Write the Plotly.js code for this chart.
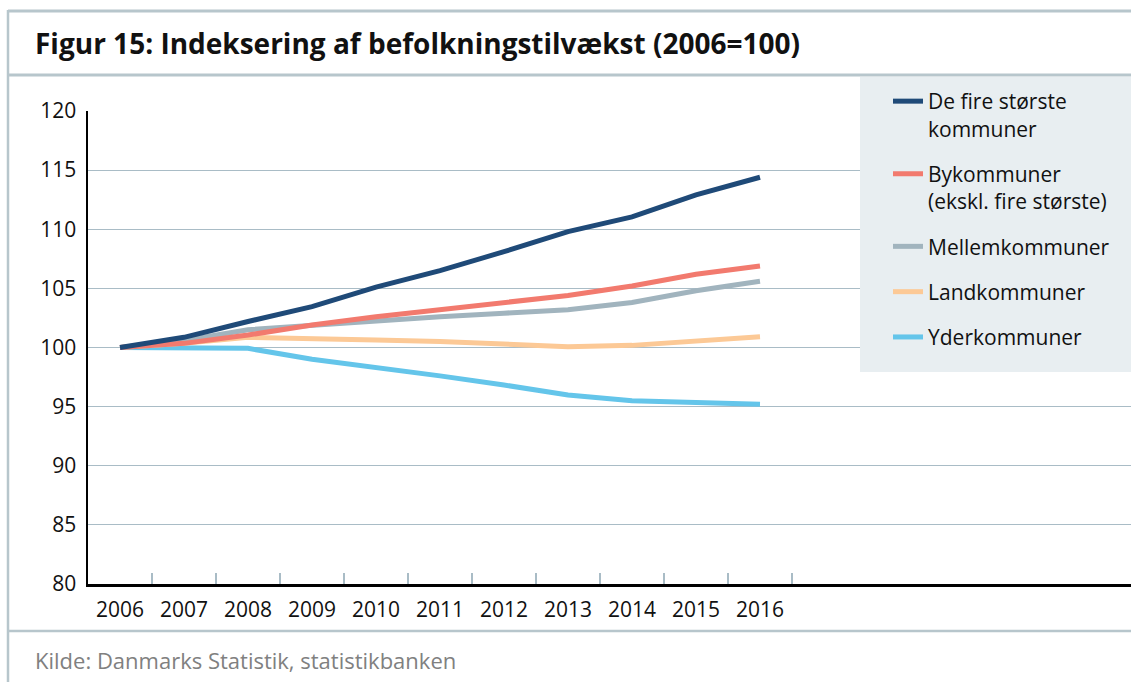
<!DOCTYPE html>
<html>
<head>
<meta charset="utf-8">
<script src="https://cdn.plot.ly/plotly-3.0.1.min.js"></script>
<style>html,body{margin:0;padding:0;background:#fff;}#chart{width:1131px;height:682px;}</style>
</head>
<body>
<div id="chart"></div>
<script>
// ---- Data ----
const years = ['2006','2007','2008','2009','2010','2011','2012','2013','2014','2015','2016'];
const deFireStoerste = [100, 100.86, 102.2, 103.45, 105.1, 106.5, 108.1, 109.8, 111.05, 112.9, 114.4];
const bykommuner     = [100, 100.35, 101.05, 101.9, 102.6, 103.2, 103.7, 104.4, 105.2, 106.2, 106.9];
const mellemkommuner = [100, 100.6, 101.5, 101.9, 102.3, 102.6, 102.9, 103.2, 103.8, 104.8, 105.6];
const landkommuner   = [100, 100.35, 100.86, 100.78, 100.63, 100.5, 100.27, 100.07, 100.18, 100.55, 100.9];
const yderkommuner   = [100, 100, 99.93, 99.0, 98.35, 97.6, 96.83, 95.98, 95.5, 95.37, 95.2];
const seriesNames = ['De fire største<br>kommuner', 'Bykommuner<br>(ekskl. fire største)', 'Mellemkommuner', 'Landkommuner', 'Yderkommuner'];
const yTicks = [80, 85, 90, 95, 100, 105, 110, 115, 120];

// ---- Layout geometry ----
const W = 1131, H = 682, L = 88, R = 0, T = 111, B = 98;
const plotW = W - L - R, plotH = H - T - B;
const px2x = p => (p - L) / plotW;
const px2y = p => (H - B - p) / plotH;
const FONT = 'Open Sans, Noto Sans, sans-serif';
const border = '#B7C6CC';

const seriesData = [deFireStoerste, bykommuner, mellemkommuner, landkommuner, yderkommuner];
const colors = ['#1F4A78', '#F27A6E', '#A1B4BE', '#FCC996', '#64C5EA'];

const traces = [];
for (let i = seriesData.length - 1; i >= 0; i--) {
  traces.push({
    type: 'scatter', mode: 'lines',
    x: years, y: seriesData[i], name: seriesNames[i],
    legendgroup: 'g' + i, legendrank: i + 1,
    line: {color: colors[i], width: 5},
    hoverinfo: 'skip'
  });
}

const catSpan = 64; // px per category
const layout = {
  width: W, height: H,
  margin: {l: L, r: R, t: T, b: B, pad: 0},
  paper_bgcolor: '#ffffff', plot_bgcolor: '#ffffff',
  font: {family: FONT, size: 21, color: '#111111'},
  title: {
    text: '<b>Figur 15: Indeksering af befolkningstilvækst (2006=100)</b>',
    font: {family: FONT, size: 28, color: '#111111'},
    xref: 'container', yref: 'container',
    x: 35 / W, xanchor: 'left', y: 1 - 44 / H, yanchor: 'middle'
  },
  xaxis: {
    type: 'category',
    range: [-0.5, -0.5 + plotW / catSpan],
    tickson: 'boundaries', ticks: 'inside', ticklen: 11, tickwidth: 1.5, tickcolor: '#A9BCC6',
    showgrid: false, zeroline: false,
    showline: true, linecolor: '#000000', linewidth: 2.5,
    tickfont: {family: FONT, size: 21, color: '#111111'},
    ticklabelstandoff: 5,
    fixedrange: true
  },
  yaxis: {
    range: [80, 120],
    tickvals: yTicks, ticktext: yTicks.map(String),
    ticks: '', showgrid: true, gridcolor: '#A9BCC6', gridwidth: 1.2,
    zeroline: false, showline: true, linecolor: '#000000', linewidth: 2.5,
    tickfont: {family: FONT, size: 21, color: '#111111'},
    ticklabelstandoff: 5,
    fixedrange: true
  },
  showlegend: true,
  legend: {
    x: px2x(888), y: px2y(81), xanchor: 'left', yanchor: 'top',
    xref: 'paper', yref: 'paper',
    bgcolor: 'rgba(0,0,0,0)', borderwidth: 0,
    traceorder: 'grouped', tracegroupgap: 15, valign: 'top',
    font: {family: FONT, size: 21, color: '#111111'}
  },
  shapes: [
    // legend background
    {type: 'rect', xref: 'paper', yref: 'paper', x0: px2x(860), x1: px2x(1131), y0: px2y(77), y1: px2y(372),
     fillcolor: '#E8EEF1', line: {width: 0}, layer: 'above'},
    // frame lines
    {type: 'line', xref: 'paper', yref: 'paper', x0: px2x(8), x1: px2x(1131), y0: px2y(11), y1: px2y(11), line: {color: border, width: 3}},
    {type: 'line', xref: 'paper', yref: 'paper', x0: px2x(8), x1: px2x(1131), y0: px2y(75), y1: px2y(75), line: {color: border, width: 3}},
    {type: 'line', xref: 'paper', yref: 'paper', x0: px2x(8), x1: px2x(1131), y0: px2y(631), y1: px2y(631), line: {color: border, width: 2.5}},
    {type: 'line', xref: 'paper', yref: 'paper', x0: px2x(8), x1: px2x(8), y0: px2y(10), y1: px2y(682), line: {color: border, width: 2.5}}
  ],
  annotations: [
    {text: 'Kilde: Danmarks Statistik, statistikbanken', xref: 'paper', yref: 'paper',
     x: px2x(33), y: px2y(660), xanchor: 'left', yanchor: 'middle', showarrow: false,
     font: {family: FONT, size: 22, color: '#808080'}}
  ]
};

Plotly.newPlot('chart', traces, layout, {displayModeBar: false, staticPlot: true});
</script>
</body>
</html>
